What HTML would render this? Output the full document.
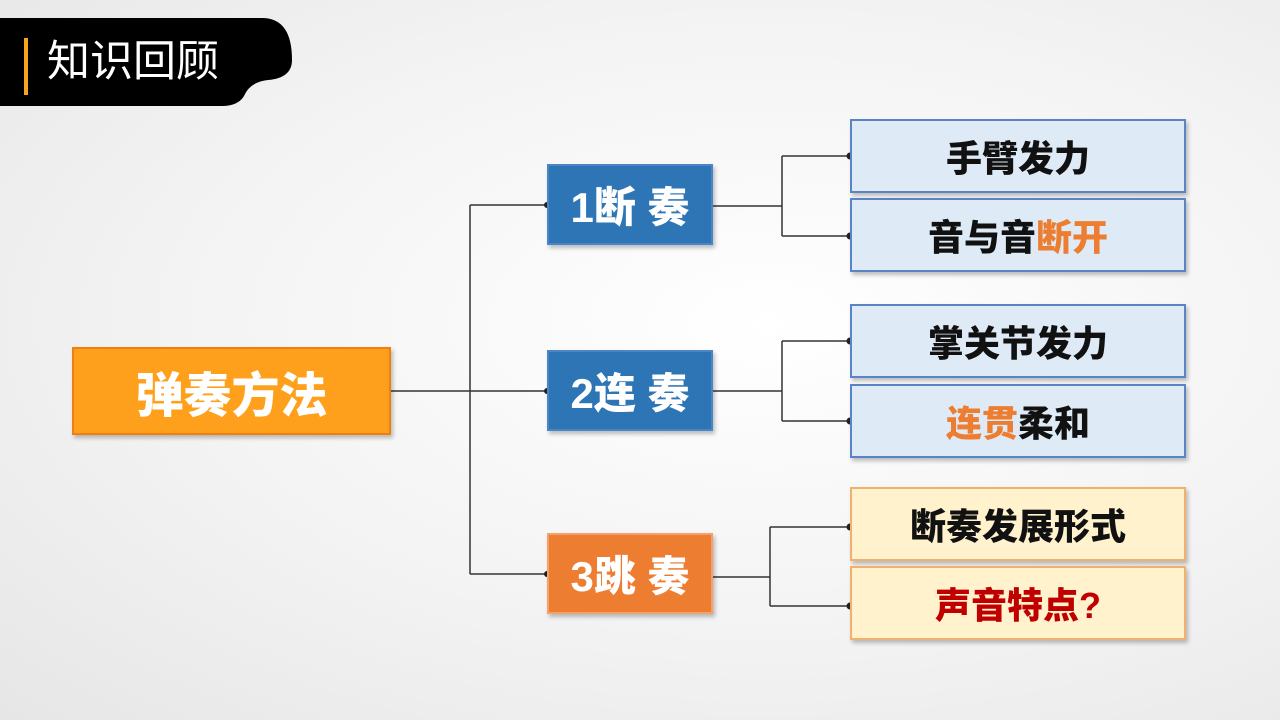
<!DOCTYPE html>
<html><head><meta charset="utf-8"><style>
*{margin:0;padding:0;box-sizing:border-box}
body{width:1280px;height:720px;overflow:hidden;position:relative;
background:radial-gradient(ellipse at 60% 45%,#ffffff 0%,#f3f3f3 55%,#e6e6e6 100%);
font-family:"Liberation Sans","Noto Sans CJK SC",sans-serif;}
.b{position:absolute;display:flex;align-items:center;justify-content:center;font-weight:900;box-shadow:2px 3px 4px rgba(0,0,0,0.25);white-space:nowrap}
.main{left:72px;top:347px;width:319px;height:88px;background:#FFA01C;border:2px solid #F07F10;color:#fff;font-size:48px}
.n{left:547px;width:166px;height:81px;color:#fff;font-size:42px}
.blue{background:#2E75B6;border:2px solid #4A86C5}
.org{background:#ED7D31;border:2px solid #F4A26B}
.r{left:850px;width:336px;height:74px;font-size:36px;color:#111}
.lb{background:#DEEBF7;border:2px solid #5B84C4}
.ly{background:#FFF2CC;border:2px solid #F0B070}
.o{color:#ED7D31}
.red{color:#C00000}
</style></head><body>
<svg width="1280" height="720" style="position:absolute;left:0;top:0">
<path d="M0 18 H262 Q292 18 292 60 Q292 78 268 80 Q250 82 244 96 Q238 106 222 106 H0 Z" fill="#000"/>
<rect x="24" y="38" width="4" height="57" fill="#F7A51C"/>
<g stroke="#333" stroke-width="1.5" fill="none">
<path d="M391 391 H470 M470 205 V574 M470 205 H547 M470 391 H547 M470 574 H547"/>
<path d="M713 206 H782 M782 156 V236 M782 156 H850 M782 236 H850"/>
<path d="M713 391 H782 M782 341 V421 M782 341 H850 M782 421 H850"/>
<path d="M713 577 H770 M770 527 V606 M770 527 H850 M770 606 H850"/>
</g>
<g fill="#222">
<circle cx="547" cy="205" r="3"/><circle cx="547" cy="391" r="3"/><circle cx="547" cy="574" r="3"/>
<circle cx="850" cy="156" r="3.5"/><circle cx="850" cy="236" r="3.5"/>
<circle cx="850" cy="341" r="3.5"/><circle cx="850" cy="421" r="3.5"/>
<circle cx="850" cy="527" r="3.5"/><circle cx="850" cy="606" r="3.5"/>
</g>
</svg>
<div style="position:absolute;left:47px;top:34px;color:#fff;font-size:43px;line-height:56px">知识回顾</div>
<div class="b main">弹奏方法</div>
<div class="b n blue" style="top:164px">1断 奏</div>
<div class="b n blue" style="top:350px">2连 奏</div>
<div class="b n org" style="top:533px">3跳 奏</div>
<div class="b r lb" style="top:119px">手臂发力</div>
<div class="b r lb" style="top:198px">音与音<span class="o">断开</span></div>
<div class="b r lb" style="top:304px">掌关节发力</div>
<div class="b r lb" style="top:384px"><span class="o">连贯</span>柔和</div>
<div class="b r ly" style="top:487px">断奏发展形式</div>
<div class="b r ly red" style="top:566px">声音特点?</div>
</body></html>
